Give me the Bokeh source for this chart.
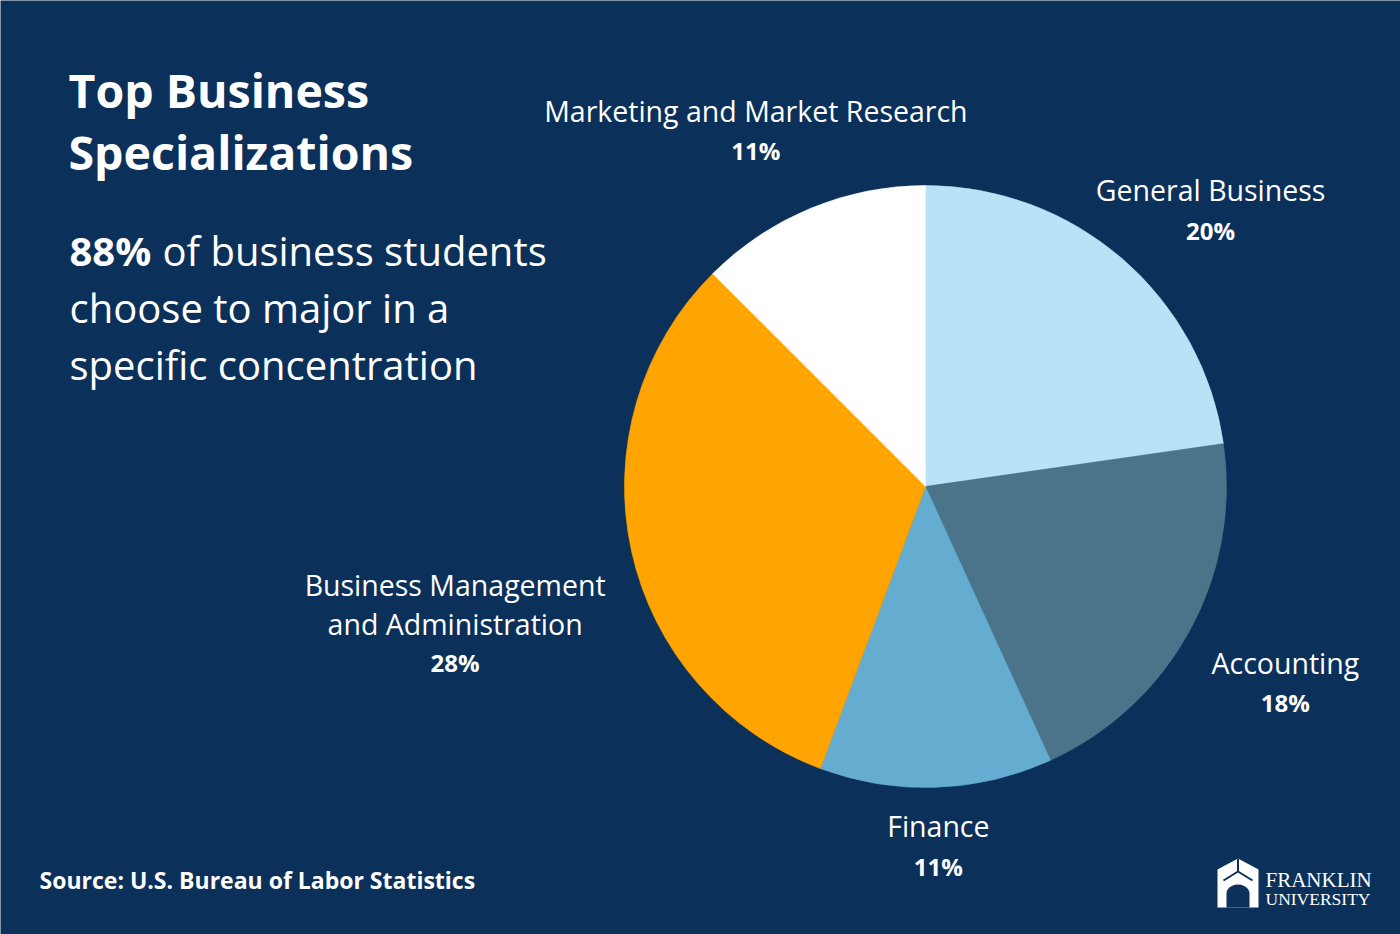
import math
from bokeh.plotting import figure
from bokeh.models import Range1d
from bokeh.core.properties import value
from bokeh.embed import file_html
from bokeh.resources import INLINE

# ---------------- data ----------------
categories = ["General Business", "Accounting", "Finance",
              "Business Management|and Administration",
              "Marketing and Market Research"]
shares = [20, 18, 11, 28, 11]
colors = ["#BAE2F7", "#4B7389", "#64ADD1", "#FFA400", "#FFFFFF"]

title_lines = ["Top Business", "Specializations"]
highlight = "88%"
body_lines = ["of business students", "choose to major in a", "specific concentration"]
source_text = "Source: U.S. Bureau of Labor Statistics"

# ---------------- layout ----------------
W, H = 1400, 934
BG = "#0B3059"
FONT = "Open Sans"
label_dist = [397, 410, 360, 490, 394]
label_shift_deg = [-5, 0, 0, 4, 3]

p = figure(width=W, height=H, x_range=Range1d(0, W), y_range=Range1d(0, H),
           output_backend="svg", toolbar_location=None, min_border=0)
p.axis.visible = False
p.grid.visible = False
p.outline_line_color = None
p.background_fill_color = BG
p.border_fill_color = BG

def Y(py):
    return H - py

cx, cy, R = 925, Y(486), 301
total = sum(shares)
starts, ends, mids = [], [], []
cum = 0
for s in shares:
    a_end = math.pi / 2 - 2 * math.pi * cum / total
    a_start = math.pi / 2 - 2 * math.pi * (cum + s) / total
    starts.append(a_start)
    ends.append(a_end)
    mids.append((a_start + a_end) / 2)
    cum += s

p.wedge(x=cx, y=cy, radius=R, start_angle=starts, end_angle=ends,
        fill_color=colors, line_color=colors, line_width=0.6)

# slice labels
for i, cat in enumerate(categories):
    ang = mids[i] + math.radians(label_shift_deg[i])
    bx = cx + label_dist[i] * math.cos(ang)
    by = cy + label_dist[i] * math.sin(ang)
    lines = cat.split("|") + [f"{shares[i]}%"]
    n = len(lines)
    step = 39 if n == 3 else 40
    for j, ln in enumerate(lines):
        yy = by + step * ((n - 1) / 2 - j)
        bold = (j == n - 1)
        p.text(x=[bx], y=[yy], text=[ln], text_align="center", text_baseline="middle",
               text_color="white", text_font=value(FONT),
               text_font_size="24px" if bold else "28.5px",
               text_font_style="bold" if bold else "normal")

# title
for j, t in enumerate(title_lines):
    p.text(x=[68], y=[Y(89 + 62 * j)], text=[t], text_align="left",
           text_baseline="middle", text_color="white", text_font=value(FONT),
           text_font_size="46.5px", text_font_style="bold")

# body
BODY = "40px"
p.text(x=[69], y=[Y(250)], text=[highlight], text_baseline="middle",
       text_color="white", text_font=value(FONT), text_font_size=BODY,
       text_font_style="bold")
p.text(x=[162], y=[Y(250)], text=[body_lines[0]], text_baseline="middle",
       text_color="white", text_font=value(FONT), text_font_size=BODY)
for j, t in enumerate(body_lines[1:]):
    p.text(x=[69], y=[Y(307 + 57 * j)], text=[t], text_baseline="middle",
           text_color="white", text_font=value(FONT), text_font_size=BODY)

# source
p.text(x=[39], y=[Y(879)], text=[source_text], text_baseline="middle",
       text_color="white", text_font=value(FONT), text_font_size="23px",
       text_font_style="bold")

# logo (approximate)
lx, ly = 1217, Y(907)
outer_x = [lx, lx, lx + 20.5, lx + 41, lx + 41]
outer_y = [ly, ly + 38, ly + 49, ly + 38, ly]
p.patch(outer_x, outer_y, fill_color="white", line_color=None)
arch_x = [lx + 9, lx + 9] + [lx + 20.5 + 11.5 * math.cos(math.radians(a)) for a in range(180, -1, -15)] + [lx + 32]
arch_y = [ly, ly + 14] + [ly + 14 + 9 * math.sin(math.radians(a)) for a in range(180, -1, -15)] + [ly]
p.patch(arch_x, arch_y, fill_color=BG, line_color=None)
p.line([lx + 6, lx + 20.5, lx + 35], [ly + 27, ly + 36, ly + 27], line_color=BG, line_width=2)
p.line([lx + 20.5, lx + 20.5], [ly + 36, ly + 49], line_color=BG, line_width=2)
p.text(x=[1265], y=[Y(879)], text=["FRANKLIN"], text_baseline="middle",
       text_color="white", text_font=value("Liberation Serif"), text_font_size="21px")
p.text(x=[1265], y=[Y(898)], text=["UNIVERSITY"], text_baseline="middle",
       text_color="white", text_font=value("Liberation Serif"), text_font_size="17.5px")

open("out.html", "w").write(file_html(p, INLINE))
